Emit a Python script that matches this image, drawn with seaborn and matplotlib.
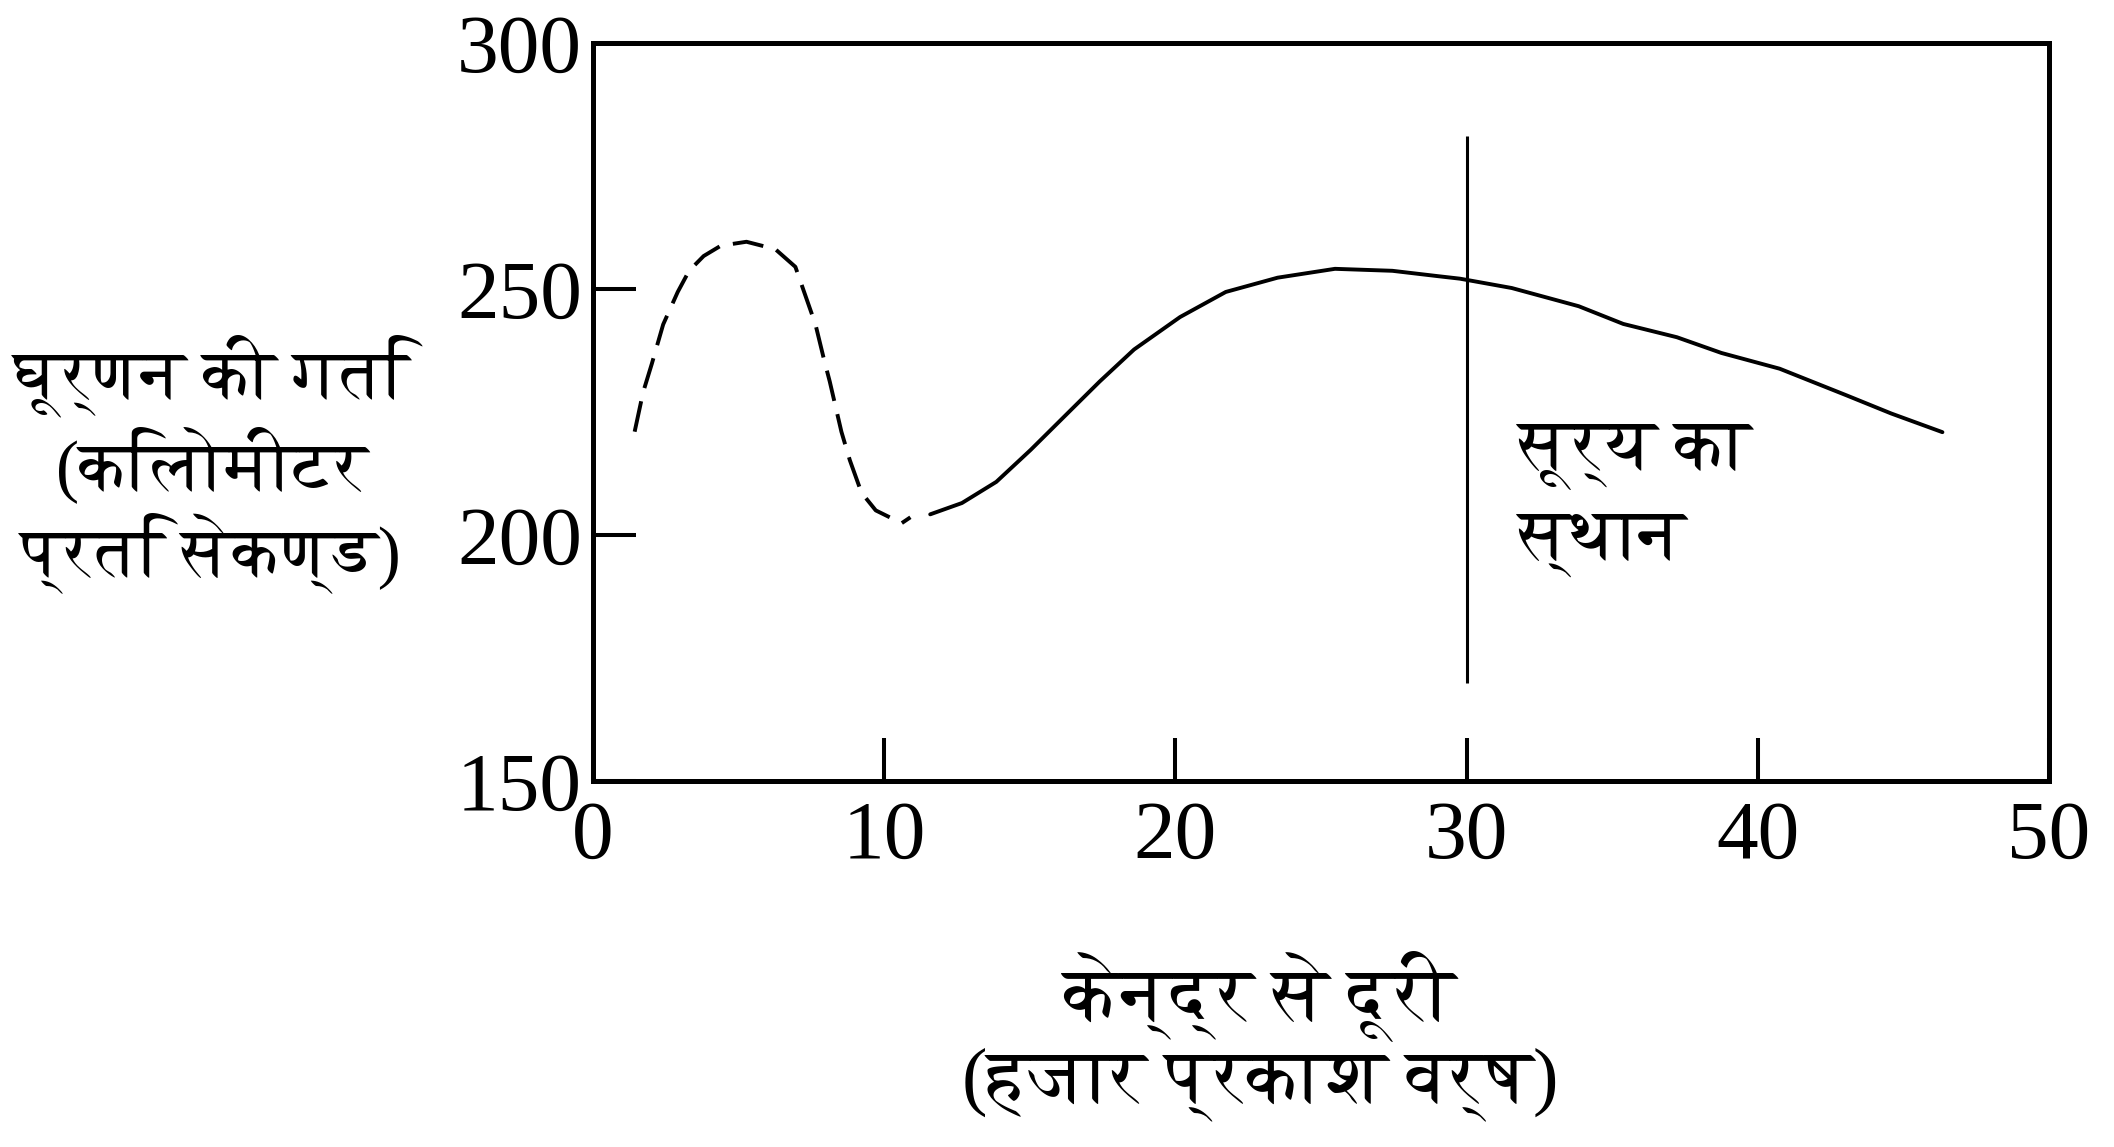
import matplotlib
matplotlib.use("Agg")
import matplotlib.pyplot as plt
import seaborn as sns

# values
# inner part of the curve (dashed, uncertain)
dashed_x = [1.43, 1.72, 2.02, 2.41, 2.91, 3.30, 3.80, 4.39, 5.27, 6.26, 6.95, 7.25,
            7.64, 7.94, 8.13, 8.33, 8.53, 8.82, 9.22, 9.71, 10.60, 10.90]
dashed_y = [221.0, 229.0, 234.8, 242.8, 249.4, 253.7, 256.7, 258.8, 259.6, 258.1, 254.5, 249.4,
            242.8, 235.5, 231.2, 226.1, 221.0, 215.2, 208.6, 205.0, 202.4, 203.6]

# measured part of the curve (solid)
solid_x = [11.58, 12.67, 13.85, 15.03, 16.41, 17.40, 18.58, 20.16, 21.73, 23.51, 25.48,
           27.45, 29.03, 29.77, 31.55, 33.85, 35.38, 37.22, 38.75, 40.75, 43.04, 44.58, 46.34]
solid_y = [204.2, 206.5, 210.8, 217.3, 225.4, 231.2, 237.7, 244.3, 249.4, 252.3, 254.1,
           253.7, 252.6, 252.1, 250.2, 246.5, 242.9, 240.2, 237.0, 233.8, 228.4, 224.7, 220.9]

# sun position marker
sun_x = 30
sun_y_low, sun_y_high = 170, 281

x_ticks = [0, 10, 20, 30, 40, 50]
y_ticks = [150, 200, 250, 300]

y_label = "घूर्णन की गति\n(किलोमीटर\nप्रति सेकण्ड)"
x_label = "केन्द्र से दूरी\n(हजार प्रकाश वर्ष)"
sun_label = "सूर्य का\nस्थान"

sns.set_theme(style="white")
plt.rcParams['font.family'] = ['Liberation Serif', 'FreeSerif', 'DejaVu Sans']

fig = plt.figure(figsize=(21.14, 11.47), dpi=100)
ax = fig.add_axes([593 / 2114, 1 - 781 / 1147, 1456 / 2114, 738 / 1147])

sns.lineplot(x=dashed_x, y=dashed_y, ax=ax, color='black', linewidth=2.8,
             estimator=None, sort=False, linestyle=(0, (8, 3.5)))
sns.lineplot(x=solid_x, y=solid_y, ax=ax, color='black', linewidth=2.8,
             estimator=None, sort=False)
ax.vlines(sun_x, sun_y_low, sun_y_high, color='black', linewidth=2.2)

ax.set_xlim(0, 50)
ax.set_ylim(150, 300)
ax.set_xticks(x_ticks)
ax.set_yticks(y_ticks)
ax.tick_params(direction='in', length=31, width=2.9, colors='black', labelsize=60,
               bottom=True, left=True, top=False, right=False)
ax.tick_params(axis='y', pad=8)
ax.tick_params(axis='x', pad=14)

for s in ax.spines.values():
    s.set_color('black')
    s.set_linewidth(3.6)

ax.set_ylabel(y_label, rotation=0, ha='center', va='center', fontsize=50,
              linespacing=1.15, color='black')
ax.yaxis.set_label_coords(-0.262, 0.43)
ax.set_xlabel(x_label, ha='center', va='center', fontsize=55,
              linespacing=1.1, color='black')
ax.xaxis.set_label_coords(0.458, -0.345)

ax.text(31.8, 207, sun_label, ha='left', va='center', fontsize=52,
        linespacing=1.35, color='black')

fig.savefig("out.png", dpi=100)
